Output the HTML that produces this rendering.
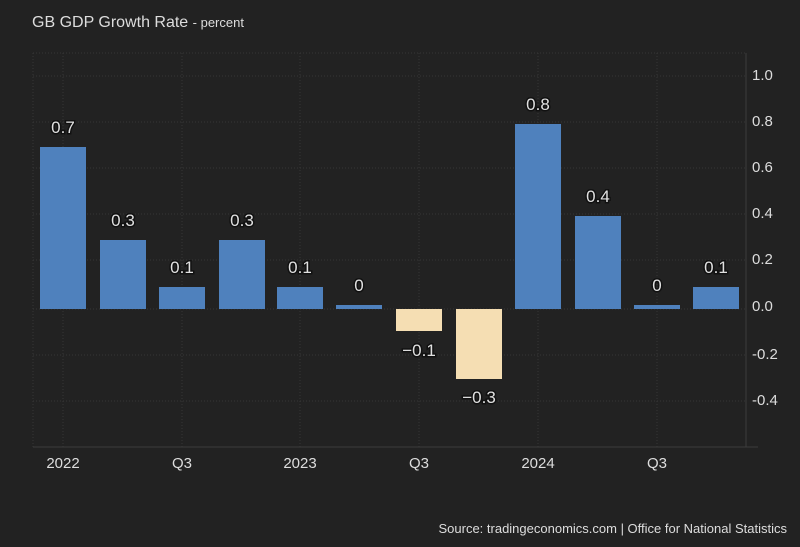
<!DOCTYPE html>
<html><head><style>body{margin:0;background:#222222;}svg{display:block}</style></head><body>
<svg width="800" height="547" xmlns="http://www.w3.org/2000/svg" font-family="Liberation Sans, sans-serif">
<rect width="800" height="547" fill="#222222"/>
<text x="32" y="27" fill="#dddddd" font-size="16">GB GDP Growth Rate <tspan font-size="13">- percent</tspan></text>
<g stroke="#363636" stroke-dasharray="1,2" stroke-width="1">
<line x1="33" y1="53" x2="746" y2="53"/>
<line x1="33" y1="76" x2="746" y2="76"/>
<line x1="33" y1="122" x2="746" y2="122"/>
<line x1="33" y1="168" x2="746" y2="168"/>
<line x1="33" y1="214" x2="746" y2="214"/>
<line x1="33" y1="260" x2="746" y2="260"/>
<line x1="33" y1="309" x2="746" y2="309"/>
<line x1="33" y1="355" x2="746" y2="355"/>
<line x1="33" y1="401" x2="746" y2="401"/>
<line x1="33" y1="53" x2="33" y2="447"/>
<line x1="63" y1="53" x2="63" y2="447"/>
<line x1="182" y1="53" x2="182" y2="447"/>
<line x1="300" y1="53" x2="300" y2="447"/>
<line x1="419" y1="53" x2="419" y2="447"/>
<line x1="538" y1="53" x2="538" y2="447"/>
<line x1="657" y1="53" x2="657" y2="447"/>
</g>
<line x1="746" y1="53" x2="746" y2="447" stroke="#3c3c3c"/>
<line x1="33" y1="447" x2="758" y2="447" stroke="#3c3c3c"/>
<g fill="#4f81bd">
<rect x="40" y="147" width="46" height="162"/>
<rect x="100" y="240" width="46" height="69"/>
<rect x="159" y="287" width="46" height="22"/>
<rect x="219" y="240" width="46" height="69"/>
<rect x="277" y="287" width="46" height="22"/>
<rect x="336" y="305" width="46" height="4"/>
<rect x="515" y="124" width="46" height="185"/>
<rect x="575" y="216" width="46" height="93"/>
<rect x="634" y="305" width="46" height="4"/>
<rect x="693" y="287" width="46" height="22"/>
</g>
<g fill="#f5deb3">
<rect x="396" y="309" width="46" height="22"/>
<rect x="456" y="309" width="46" height="70"/>
</g>
<g fill="#e0e0e0" font-size="17" text-anchor="middle" stroke="#111" stroke-width="3" paint-order="stroke">
<text x="63" y="133">0.7</text>
<text x="123" y="226">0.3</text>
<text x="182" y="273">0.1</text>
<text x="242" y="226">0.3</text>
<text x="300" y="273">0.1</text>
<text x="359" y="291">0</text>
<text x="419" y="356">−0.1</text>
<text x="479" y="403">−0.3</text>
<text x="538" y="110">0.8</text>
<text x="598" y="202">0.4</text>
<text x="657" y="291">0</text>
<text x="716" y="273">0.1</text>
</g>
<g fill="#dddddd" font-size="15">
<text x="752" y="80">1.0</text>
<text x="752" y="126">0.8</text>
<text x="752" y="172">0.6</text>
<text x="752" y="218">0.4</text>
<text x="752" y="264">0.2</text>
<text x="752" y="311">0.0</text>
<text x="752" y="359">-0.2</text>
<text x="752" y="405">-0.4</text>
</g>
<g fill="#dddddd" font-size="15" text-anchor="middle">
<text x="63" y="468">2022</text>
<text x="182" y="468">Q3</text>
<text x="300" y="468">2023</text>
<text x="419" y="468">Q3</text>
<text x="538" y="468">2024</text>
<text x="657" y="468">Q3</text>
</g>
<text x="787" y="533" fill="#dddddd" font-size="13" text-anchor="end">Source: tradingeconomics.com | Office for National Statistics</text>
</svg>
</body></html>
